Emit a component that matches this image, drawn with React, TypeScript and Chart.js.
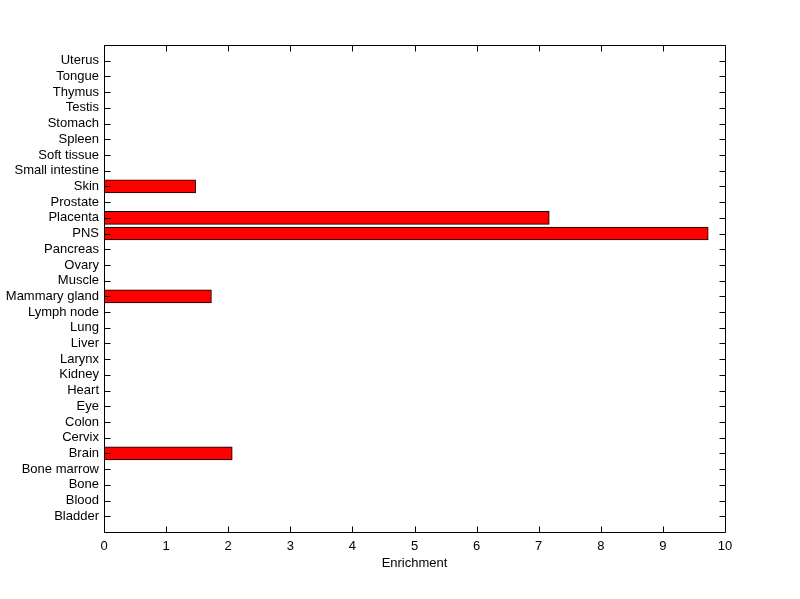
import React, { useEffect, useRef } from "react";
import { Chart, registerables } from "chart.js";

Chart.register(...registerables);

// Categories from bottom (1) to top (30)
const categories = [
  "Bladder", "Blood", "Bone", "Bone marrow", "Brain", "Cervix", "Colon", "Eye",
  "Heart", "Kidney", "Larynx", "Liver", "Lung", "Lymph node", "Mammary gland",
  "Muscle", "Ovary", "Pancreas", "PNS", "Placenta", "Prostate", "Skin",
  "Small intestine", "Soft tissue", "Spleen", "Stomach", "Testis", "Thymus",
  "Tongue", "Uterus",
];
const enrichment = [
  0, 0, 0, 0, 2.065, 0, 0, 0,
  0, 0, 0, 0, 0, 0, 1.73,
  0, 0, 0, 9.73, 7.17, 0, 1.475,
  0, 0, 0, 0, 0, 0,
  0, 0,
];
const xTicks = [0, 1, 2, 3, 4, 5, 6, 7, 8, 9, 10];
const xLabel = "Enrichment";

const FONT = "'Liberation Sans', Arial, Helvetica, sans-serif";

const boxPlugin = {
  id: "matlabBox",
  afterDatasetsDraw(chart: any) {
    const { ctx, chartArea } = chart;
    const { left, right, top, bottom } = chartArea;
    const xs = chart.scales.x;
    const ys = chart.scales.y;
    const L = Math.round(left) + 0.5;
    const R = Math.round(right) + 0.5;
    const T = Math.round(top) + 0.5;
    const B = Math.round(bottom) + 0.5;
    const tl = 6;
    ctx.save();
    ctx.strokeStyle = "#000";
    ctx.lineWidth = 1;
    ctx.beginPath();
    ctx.moveTo(L, T);
    ctx.lineTo(R, T);
    ctx.lineTo(R, B);
    ctx.lineTo(L, B);
    ctx.closePath();
    for (const v of xTicks) {
      const px = Math.round(xs.getPixelForValue(v)) + 0.5;
      ctx.moveTo(px, B);
      ctx.lineTo(px, B - tl);
      ctx.moveTo(px, T);
      ctx.lineTo(px, T + tl);
    }
    categories.forEach((_, i) => {
      const py = Math.round(ys.getPixelForValue(i + 1)) + 0.5;
      ctx.moveTo(L, py);
      ctx.lineTo(L + tl, py);
      ctx.moveTo(R, py);
      ctx.lineTo(R - tl, py);
    });
    ctx.stroke();
    ctx.restore();
  },
};

export default function App() {
  const ref = useRef<HTMLCanvasElement>(null);
  useEffect(() => {
    document.body.style.margin = "0";
    const canvas = ref.current!;
    const chart = new Chart(canvas, {
      type: "bar",
      data: {
        datasets: [
          {
            data: categories.map((_, i) => ({ x: enrichment[i], y: i + 1 })),
            backgroundColor: "#FF0000",
            borderColor: "#000000",
            borderWidth: 1,
            borderSkipped: false,
            barThickness: 13,
          },
        ],
      },
      options: {
        indexAxis: "y",
        animation: false,
        responsive: false,
        events: [],
        layout: { padding: { top: 45, right: 75, left: 0, bottom: 0 } },
        plugins: { legend: { display: false }, tooltip: { enabled: false } },
        scales: {
          x: {
            type: "linear",
            min: 0,
            max: 10,
            offset: false,
            grid: { display: false, drawTicks: false },
            border: { display: false },
            afterBuildTicks: (s: any) => {
              s.ticks = xTicks.map((v) => ({ value: v }));
            },
            afterFit: (s: any) => {
              s.height = 67;
            },
            ticks: {
              color: "#000",
              padding: 7,
              maxRotation: 0,
              font: { family: FONT, size: 13 },
            },
            title: {
              display: true,
              text: xLabel,
              color: "#000",
              font: { family: FONT, size: 13 },
              padding: { top: 0, bottom: 28 },
            },
          },
          y: {
            type: "linear",
            min: 0,
            max: 31,
            offset: false,
            grid: { display: false, drawTicks: false },
            border: { display: false },
            afterBuildTicks: (s: any) => {
              s.ticks = categories.map((_, i) => ({ value: i + 1 }));
            },
            afterFit: (s: any) => {
              s.width = 104;
            },
            ticks: {
              color: "#000",
              padding: 5,
              autoSkip: false,
              font: { family: FONT, size: 13 },
              callback: (v: any) => categories[Number(v) - 1] ?? "",
            },
          },
        },
      },
      plugins: [boxPlugin],
    } as any);
    return () => chart.destroy();
  }, []);
  return (
    <div style={{ position: "absolute", left: 0, top: 0, width: 800, height: 599, background: "#fff" }}>
      <canvas ref={ref} width={800} height={599} style={{ display: "block" }} />
    </div>
  );
}
